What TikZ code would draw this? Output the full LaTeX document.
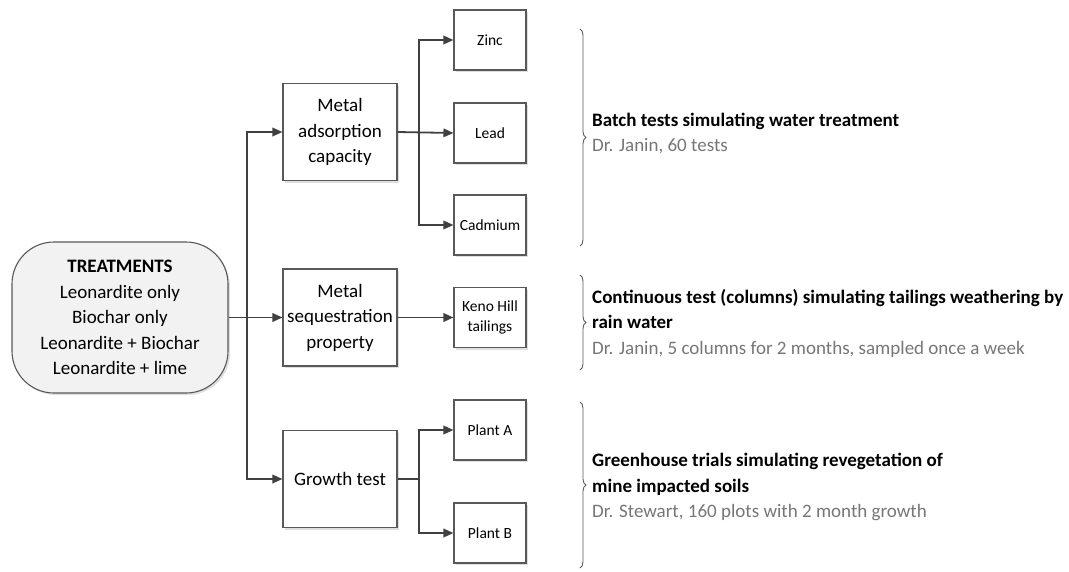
\documentclass[tikz,border=0pt]{standalone}
\usepackage{fontspec}
\setmainfont{Carlito}
\usetikzlibrary{shadows,decorations.pathreplacing,arrows.meta}
\definecolor{linegray}{RGB}{64,64,64}
\definecolor{boxgray}{RGB}{89,89,89}
\definecolor{notegray}{RGB}{118,118,118}
\definecolor{treatfill}{RGB}{242,242,242}
\tikzset{
  box/.style={draw=boxgray, line width=1.1pt, fill=white, minimum width=114pt, minimum height=97pt,
    align=center, font=\fontsize{19}{25.5}\selectfont,
    drop shadow={shadow xshift=2pt, shadow yshift=-2pt, fill=black!25}},
  smallbox/.style={box, minimum width=72pt, minimum height=60pt, inner sep=1pt,
    font=\fontsize{15.5}{20.5}\selectfont},
  arr/.style={draw=linegray, line width=1.8pt, -{Triangle[length=10pt,width=8.5pt]}},
  conn/.style={draw=linegray, line width=1.8pt},
  brace/.style={draw=boxgray, line width=0.9pt, decorate, decoration={brace, amplitude=6pt}},
  note/.style={anchor=west, align=left, font=\fontsize{19}{25.5}\selectfont, inner sep=0pt},
}
\begin{document}
\begin{tikzpicture}[x=1pt, y=-1pt]
    \useasboundingbox (0,0) rectangle (1069,571);
    % treatments
    \node[draw=boxgray, line width=1.1pt, fill=treatfill, rounded corners=42pt, minimum width=216pt,
      minimum height=151pt, align=center, font=\fontsize{19}{25.5}\selectfont,
      drop shadow={shadow xshift=2pt, shadow yshift=-2pt, fill=black!25}]
      (treat) at (120,317.5) {\textbf{TREATMENTS}\\Leonardite only\\Biochar only\\Leonardite + Biochar\\Leonardite + lime};
    % tests
    \node[box] (ads) at (340,132) {Metal\\adsorption\\capacity};
    \node[box] (seq) at (340,317.5) {Metal\\sequestration\\property};
    \node[box] (grow) at (340,479) {Growth test};
    % samples
    \node[smallbox] (zinc) at (490,40) {Zinc};
    \node[smallbox] (lead) at (490,133) {Lead};
    \node[smallbox] (cad) at (490,225) {Cadmium};
    \node[smallbox] (keno) at (490,317.5) {Keno Hill\\tailings};
    \node[smallbox] (planta) at (490,430) {Plant A};
    \node[smallbox] (plantb) at (490,533) {Plant B};
    % connectors
    \coordinate (jt) at (247,317.5);
    \coordinate (ja) at (419,132);
    \coordinate (jg) at (419,479);
    \draw[arr] (treat.east) -- (seq.west);
    \draw[arr] (jt) |- (ads.west);
    \draw[arr] (jt) |- (grow.west);
    \draw[arr] (ads.east) -- (lead.west);
    \draw[arr] (ja) |- (zinc.west);
    \draw[arr] (ja) |- (cad.west);
    \draw[arr] (seq.east) -- (keno.west);
    \draw[conn] (grow.east) -- (jg);
    \draw[arr] (jg) |- (planta.west);
    \draw[arr] (jg) |- (plantb.west);
    % braces and notes
    \draw[brace] (580,29) -- (580,246) coordinate[midway, xshift=10pt] (tipa);
    \draw[brace] (580,275) -- (580,370) coordinate[midway, xshift=10pt] (tipb);
    \draw[brace] (580,402) -- (580,568) coordinate[midway, xshift=10pt] (tipc);
    \node[note] (batch) at (592,133.5) {\textbf{Batch tests simulating water treatment}\\
      \textcolor{notegray}{Dr. Janin, 60 tests}};
    \node[note] (cont) at (592,323) {\textbf{Continuous test (columns) simulating tailings weathering by}\\
      \textbf{rain water}\\
      \textcolor{notegray}{Dr. Janin, 5 columns for 2 months, sampled once a week}};
    \node[note] (green) at (592,487) {\textbf{Greenhouse trials simulating revegetation of}\\
      \textbf{mine impacted soils}\\
      \textcolor{notegray}{Dr. Stewart, 160 plots with 2 month growth}};
\end{tikzpicture}
\end{document}
